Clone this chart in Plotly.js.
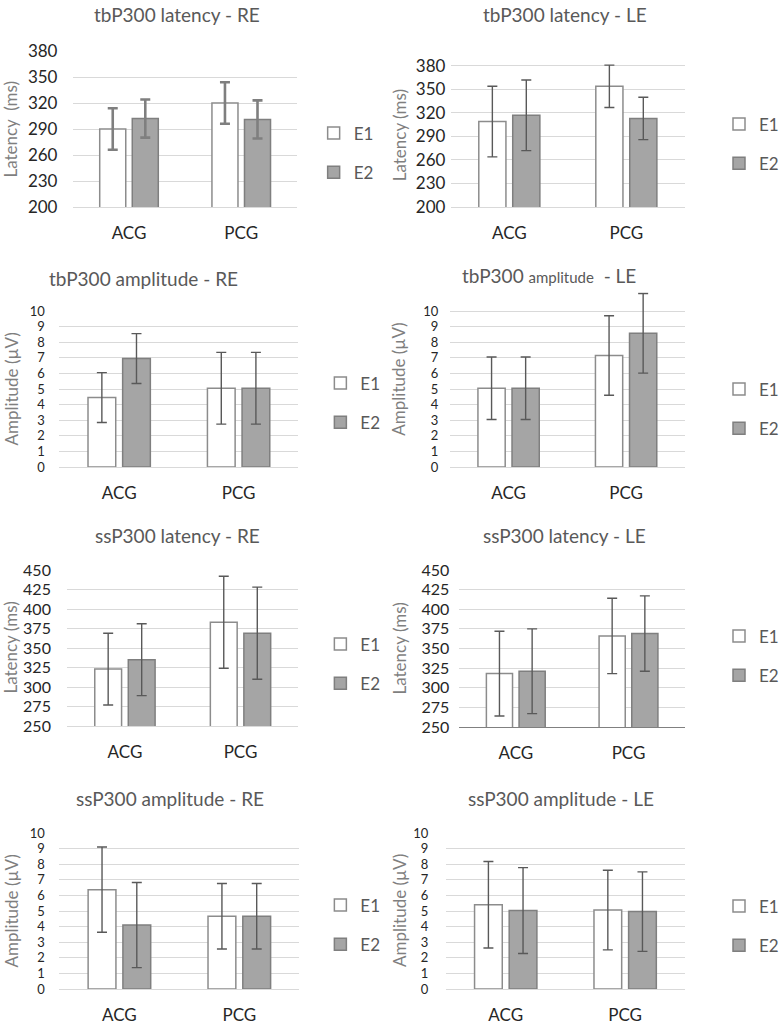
<!DOCTYPE html>
<html>
<head>
<meta charset="utf-8">
<script src="https://cdn.plot.ly/plotly-3.0.1.min.js"></script>
<style>
  body { margin: 0; background: #fff; }
  #plot { width: 784px; height: 1027px; }
</style>
</head>
<body>
<div id="plot"></div>
<script>
// groups on the x axis
let groups = ["ACG", "PCG"];
let seriesNames = ["E1", "E2"];

// tbP300 latency - RE
let tbLatRE_E1 = [290, 320];
let tbLatRE_E1err = [24, 24];
let tbLatRE_E2 = [302, 301];
let tbLatRE_E2err = [22, 22];

// tbP300 latency - LE
let tbLatLE_E1 = [309, 354];
let tbLatLE_E1err = [45, 27];
let tbLatLE_E2 = [317, 313];
let tbLatLE_E2err = [45, 27];

// tbP300 amplitude - RE
let tbAmpRE_E1 = [4.45, 5.05];
let tbAmpRE_E1err = [1.6, 2.3];
let tbAmpRE_E2 = [6.95, 5.05];
let tbAmpRE_E2err = [1.6, 2.3];

// tbP300 amplitude - LE
let tbAmpLE_E1 = [5.05, 7.15];
let tbAmpLE_E1err = [2.0, 2.55];
let tbAmpLE_E2 = [5.05, 8.57];
let tbAmpLE_E2err = [2.0, 2.55];

// ssP300 latency - RE
let ssLatRE_E1 = [323, 383];
let ssLatRE_E1err = [46, 59];
let ssLatRE_E2 = [335, 369];
let ssLatRE_E2err = [46, 59];

// ssP300 latency - LE
let ssLatLE_E1 = [318, 366];
let ssLatLE_E1err = [54, 48];
let ssLatLE_E2 = [321, 369];
let ssLatLE_E2err = [54, 48];

// ssP300 amplitude - RE
let ssAmpRE_E1 = [6.37, 4.66];
let ssAmpRE_E1err = [2.73, 2.1];
let ssAmpRE_E2 = [4.10, 4.66];
let ssAmpRE_E2err = [2.73, 2.1];

// ssP300 amplitude - LE
let ssAmpLE_E1 = [5.40, 5.06];
let ssAmpLE_E1err = [2.77, 2.55];
let ssAmpLE_E2 = [5.03, 4.96];
let ssAmpLE_E2err = [2.75, 2.55];

// tick values
let latTicksTb = [200, 230, 260, 290, 320, 350, 380];
let latTicksSs = [250, 275, 300, 325, 350, 375, 400, 425, 450];
let ampTicks = [0, 1, 2, 3, 4, 5, 6, 7, 8, 9, 10];

const W = 784, H = 1027;
const FONT = "Lato, 'Open Sans', sans-serif";

// panel geometry in pixels: box = left, right, top, bottom of plot area
// gap = space between tick labels and gridlines, yt = x of the rotated y title
let panels = [
  {title: "tbP300 latency - RE", tx: 185, ty: 14, box: [76, 310, 51, 207], range: [200, 380], ticks: latTicksTb, tsize: 17, gap: 11, yt: 10,
   ytitle: "Latency  (ms)", e1: tbLatRE_E1, e1err: tbLatRE_E1err, e2: tbLatRE_E2, e2err: tbLatRE_E2err, leg: [327, 153], errColor: "#7f7f7f", errW: 2.6},
  {title: "tbP300 latency - LE", tx: 589, ty: 14, box: [470, 714, 63.6, 207], range: [200, 383], ticks: latTicksTb, tsize: 17, gap: 1, yt: 416,
   ytitle: "Latency (ms)", e1: tbLatLE_E1, e1err: tbLatLE_E1err, e2: tbLatLE_E2, e2err: tbLatLE_E2err, leg: [750, 144]},
  {title: "tbP300 amplitude - RE", tx: 150, ty: 278, box: [62, 311, 311, 467], range: [0, 10], ticks: ampTicks, tsize: 13, gap: 11, yt: 11,
   ytitle: "Amplitude (µV)", e1: tbAmpRE_E1, e1err: tbAmpRE_E1err, e2: tbAmpRE_E2, e2err: tbAmpRE_E2err, leg: [334, 403]},
  {title: "tbP300 <span style='font-size:15px'>amplitude</span>  - LE", tx: 572, ty: 275, box: [469, 714, 292.3, 467], range: [0, 11.2], ticks: ampTicks, tsize: 13, gap: 8, yt: 416,
   ytitle: "Amplitude (µV)", e1: tbAmpLE_E1, e1err: tbAmpLE_E1err, e2: tbAmpLE_E2, e2err: tbAmpLE_E2err, leg: [750, 409]},
  {title: "ssP300 latency - RE", tx: 185, ty: 535, box: [70, 311, 570, 726], range: [250, 450], ticks: latTicksSs, tsize: 16, gap: 12, yt: 10,
   ytitle: "Latency (ms)", e1: ssLatRE_E1, e1err: ssLatRE_E1err, e2: ssLatRE_E2, e2err: ssLatRE_E2err, leg: [334, 664]},
  {title: "ssP300 latency - LE", tx: 589, ty: 535, box: [479, 714, 570, 727], range: [250, 450], ticks: latTicksSs, tsize: 16, gap: 6, yt: 416,
   ytitle: "Latency (ms)", e1: ssLatLE_E1, e1err: ssLatLE_E1err, e2: ssLatLE_E2, e2err: ssLatLE_E2err, leg: [750, 656], darkBase: true},
  {title: "ssP300 amplitude - RE", tx: 177, ty: 798, box: [62, 312, 833, 989], range: [0, 10], ticks: ampTicks, tsize: 13, gap: 11, yt: 11,
   ytitle: "Amplitude (µV)", e1: ssAmpRE_E1, e1err: ssAmpRE_E1err, e2: ssAmpRE_E2, e2err: ssAmpRE_E2err, leg: [334, 925]},
  {title: "ssP300 amplitude - LE", tx: 585, ty: 798, box: [465, 714, 833, 989], range: [0, 10], ticks: ampTicks, tsize: 13, gap: 14, yt: 416,
   ytitle: "Amplitude (µV)", e1: ssAmpLE_E1, e1err: ssAmpLE_E1err, e2: ssAmpLE_E2, e2err: ssAmpLE_E2err, leg: [750, 926]}
];

let data = [];
let layout = {
  width: W,
  height: H,
  margin: {l: 0, r: 0, t: 0, b: 0},
  paper_bgcolor: "#ffffff",
  plot_bgcolor: "rgba(0,0,0,0)",
  barmode: "group",
  bargap: 0.42,
  bargroupgap: 0.2,
  font: {family: FONT, color: "#404040"},
  annotations: []
};

panels.forEach((p, i) => {
  let n = i === 0 ? "" : String(i + 1);
  let legName = "legend" + n;
  let errColor = p.errColor || "#595959";
  let errW = p.errW || 1.4;

  // E1 bars - white with grey outline
  data.push({
    type: "bar",
    x: groups,
    y: p.e1,
    name: seriesNames[0],
    xaxis: "x" + n,
    yaxis: "y" + n,
    legend: legName,
    legendgroup: "e1_" + i,
    marker: {color: "#ffffff", line: {color: "#8c8c8c", width: 1.5}},
    error_y: {type: "data", array: p.e1err, visible: true, color: errColor, thickness: errW, width: 5}
  });

  // E2 bars - grey fill
  data.push({
    type: "bar",
    x: groups,
    y: p.e2,
    name: seriesNames[1],
    xaxis: "x" + n,
    yaxis: "y" + n,
    legend: legName,
    legendgroup: "e2_" + i,
    marker: {color: "#a5a5a5", line: {color: "#7f7f7f", width: 1.5}},
    error_y: {type: "data", array: p.e2err, visible: true, color: errColor, thickness: errW, width: 5}
  });

  let [l, r, t, b] = p.box;
  layout["xaxis" + n] = {
    domain: [l / W, r / W],
    anchor: "y" + n,
    showgrid: false,
    zeroline: false,
    showline: true,
    linecolor: p.darkBase ? "#808080" : "#d9d9d9",
    linewidth: 1,
    ticks: "outside",
    ticklen: 11,
    tickcolor: "rgba(0,0,0,0)",
    tickfont: {family: FONT, size: 17, color: "#262626"},
    fixedrange: true
  };
  layout["yaxis" + n] = {
    domain: [1 - b / H, 1 - t / H],
    anchor: "x" + n,
    range: p.range,
    tickmode: "array",
    tickvals: p.ticks,
    showgrid: true,
    gridcolor: "#d9d9d9",
    gridwidth: 1,
    zeroline: false,
    showline: false,
    ticks: "outside",
    ticklen: p.gap,
    tickcolor: "rgba(0,0,0,0)",
    tickfont: {family: FONT, size: p.tsize, color: "#262626"},
    fixedrange: true
  };

  layout[legName] = {
    x: p.leg[0] / W,
    y: 1 - p.leg[1] / H,
    xanchor: "left",
    yanchor: "middle",
    bgcolor: "rgba(0,0,0,0)",
    font: {family: FONT, size: 17, color: "#595959"},
    tracegroupgap: 14,
    itemwidth: 30
  };

  // chart title
  layout.annotations.push({
    text: p.title,
    xref: "paper",
    yref: "paper",
    x: p.tx / W,
    y: 1 - p.ty / H,
    xanchor: "center",
    yanchor: "middle",
    showarrow: false,
    font: {family: FONT, size: 19, color: "#595959"}
  });

  // y axis title, rotated, centred on the plot area
  layout.annotations.push({
    text: p.ytitle,
    xref: "paper",
    yref: "paper",
    x: p.yt / W,
    y: 1 - ((t + b) / 2) / H,
    xanchor: "center",
    yanchor: "middle",
    textangle: -90,
    showarrow: false,
    font: {family: FONT, size: 17, color: "#7f7f7f"}
  });
});

Plotly.newPlot("plot", data, layout, {displayModeBar: false, staticPlot: true});
</script>
</body>
</html>
